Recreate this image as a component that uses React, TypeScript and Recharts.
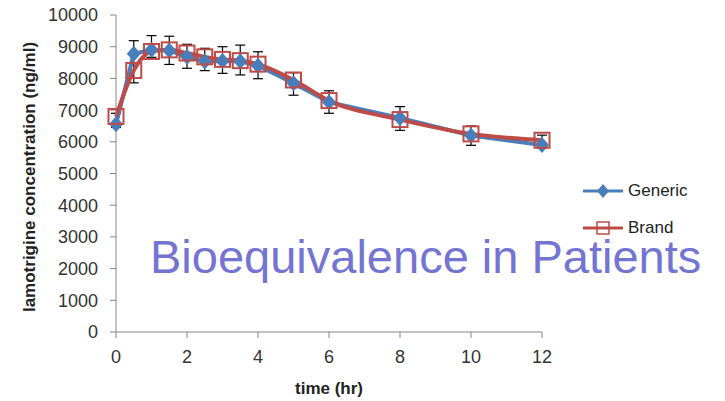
import { LineChart, Line, XAxis, YAxis, ErrorBar, Label } from 'recharts'

// sampling times (hr)
const hours = [0, 0.5, 1, 1.5, 2, 2.5, 3, 3.5, 4, 5, 6, 8, 10, 12]
// lamotrigine concentration (ng/ml)
const generic = [6550, 8780, 8900, 8880, 8680, 8530, 8550, 8540, 8400, 7850, 7250, 6750, 6200, 5900]
const brand = [6800, 8250, 8850, 8900, 8800, 8680, 8600, 8560, 8450, 7950, 7300, 6700, 6250, 6050]
// error bar ends
const errLow = [6450, 7860, 8665, 8440, 8320, 8245, 8160, 8110, 7990, 7470, 6900, 6360, 5890, 5800]
const errHigh = [6900, 9190, 9350, 9330, 9075, 8950, 9000, 9050, 8840, 8180, 7610, 7110, 6500, 6210]

const xTicks = [0, 2, 4, 6, 8, 10, 12]
const yTicks = [0, 1000, 2000, 3000, 4000, 5000, 6000, 7000, 8000, 9000, 10000]

const BLUE = '#4A7EBB'
const RED = '#BE4B48'
const FONT = '"Liberation Sans", Arial, sans-serif'

const data = hours.map((t, i) => ({
  t,
  generic: generic[i],
  brand: brand[i],
  err: [generic[i] - errLow[i], errHigh[i] - generic[i]],
}))

function Diamond({ cx, cy }: any) {
  if (cx == null || cy == null) return null
  return (
    <path
      d={`M${cx},${cy - 8} L${cx + 7},${cy} L${cx},${cy + 8} L${cx - 7},${cy} Z`}
      fill={BLUE}
    />
  )
}

function Square({ cx, cy }: any) {
  if (cx == null || cy == null) return null
  return (
    <rect x={cx - 7.5} y={cy - 7.5} width={15} height={15} fill="none" stroke={RED} strokeWidth={2} />
  )
}

function XTick({ x, y, payload }: any) {
  return (
    <text x={x} y={y} dy="0.71em" textAnchor="middle" fontSize={18} fill="#333" fontFamily={FONT}>
      {payload.value}
    </text>
  )
}

function YTick({ x, y, payload }: any) {
  return (
    <text x={x} y={y} dy="0.36em" textAnchor="end" fontSize={18} fill="#333" fontFamily={FONT}>
      {payload.value}
    </text>
  )
}

function LegendBox() {
  const row = { display: 'flex', alignItems: 'center', height: 37 }
  return (
    <div
      style={{
        position: 'absolute',
        left: 583,
        top: 172,
        fontFamily: FONT,
        fontSize: 17,
        color: '#222',
      }}
    >
      <div style={row}>
        <svg width={42} height={18}>
          <line x1={0} y1={9} x2={40} y2={9} stroke={BLUE} strokeWidth={3} />
          <path d="M20,2 L26,9 L20,16 L14,9 Z" fill={BLUE} />
        </svg>
        <span style={{ marginLeft: 3 }}>Generic</span>
      </div>
      <div style={row}>
        <svg width={42} height={18}>
          <line x1={0} y1={9} x2={40} y2={9} stroke={RED} strokeWidth={3} />
          <rect x={14} y={3} width={12} height={12} fill="none" stroke={RED} strokeWidth={1.5} />
        </svg>
        <span style={{ marginLeft: 3 }}>Brand</span>
      </div>
    </div>
  )
}

export default function App() {
  return (
    <div style={{ position: 'absolute', left: 0, top: 0, width: 725, height: 401, fontFamily: FONT, background: '#fff' }}>
      <LineChart
        width={725}
        height={401}
        data={data}
        margin={{ top: 15, right: 183, bottom: 29, left: 0 }}
      >
        <XAxis
          dataKey="t"
          type="number"
          domain={[0, 12]}
          ticks={xTicks}
          height={40}
          stroke="#868686"
          tickSize={6}
          tickMargin={12}
          tick={<XTick />}
        >
          <Label
            content={() => (
              <text x={329} y={394} textAnchor="middle" fontWeight="bold" fontSize={17} fill="#222">
                time (hr)
              </text>
            )}
          />
        </XAxis>
        <YAxis
          type="number"
          domain={[0, 10000]}
          ticks={yTicks}
          width={116}
          stroke="#868686"
          tickSize={6}
          tickMargin={12}
          tick={<YTick />}
        >
          <Label
            content={() => (
              <text
                x={35}
                y={177}
                transform="rotate(-90 35 177)"
                textAnchor="middle"
                fontWeight="bold"
                fontSize={17}
                fill="#222"
              >
                lamotrigine concentration (ng/ml)
              </text>
            )}
          />
        </YAxis>
        <Line
          type="linear"
          dataKey="generic"
          name="Generic"
          stroke={BLUE}
          strokeWidth={4}
          dot={<Diamond />}
          isAnimationActive={false}
        >
          <ErrorBar dataKey="err" direction="y" width={5} stroke="#000" strokeWidth={1.2} />
        </Line>
        <Line
          type="monotone"
          dataKey="brand"
          name="Brand"
          stroke={RED}
          strokeWidth={4}
          dot={<Square />}
          isAnimationActive={false}
        />
      </LineChart>
      <LegendBox />
      <svg
        width={725}
        height={401}
        style={{ position: 'absolute', left: 0, top: 0, pointerEvents: 'none' }}
      >
        <text x={150} y={273} fontSize={47} fill="#7474D2" fontFamily={FONT}>
          Bioequivalence in Patients
        </text>
      </svg>
    </div>
  )
}
